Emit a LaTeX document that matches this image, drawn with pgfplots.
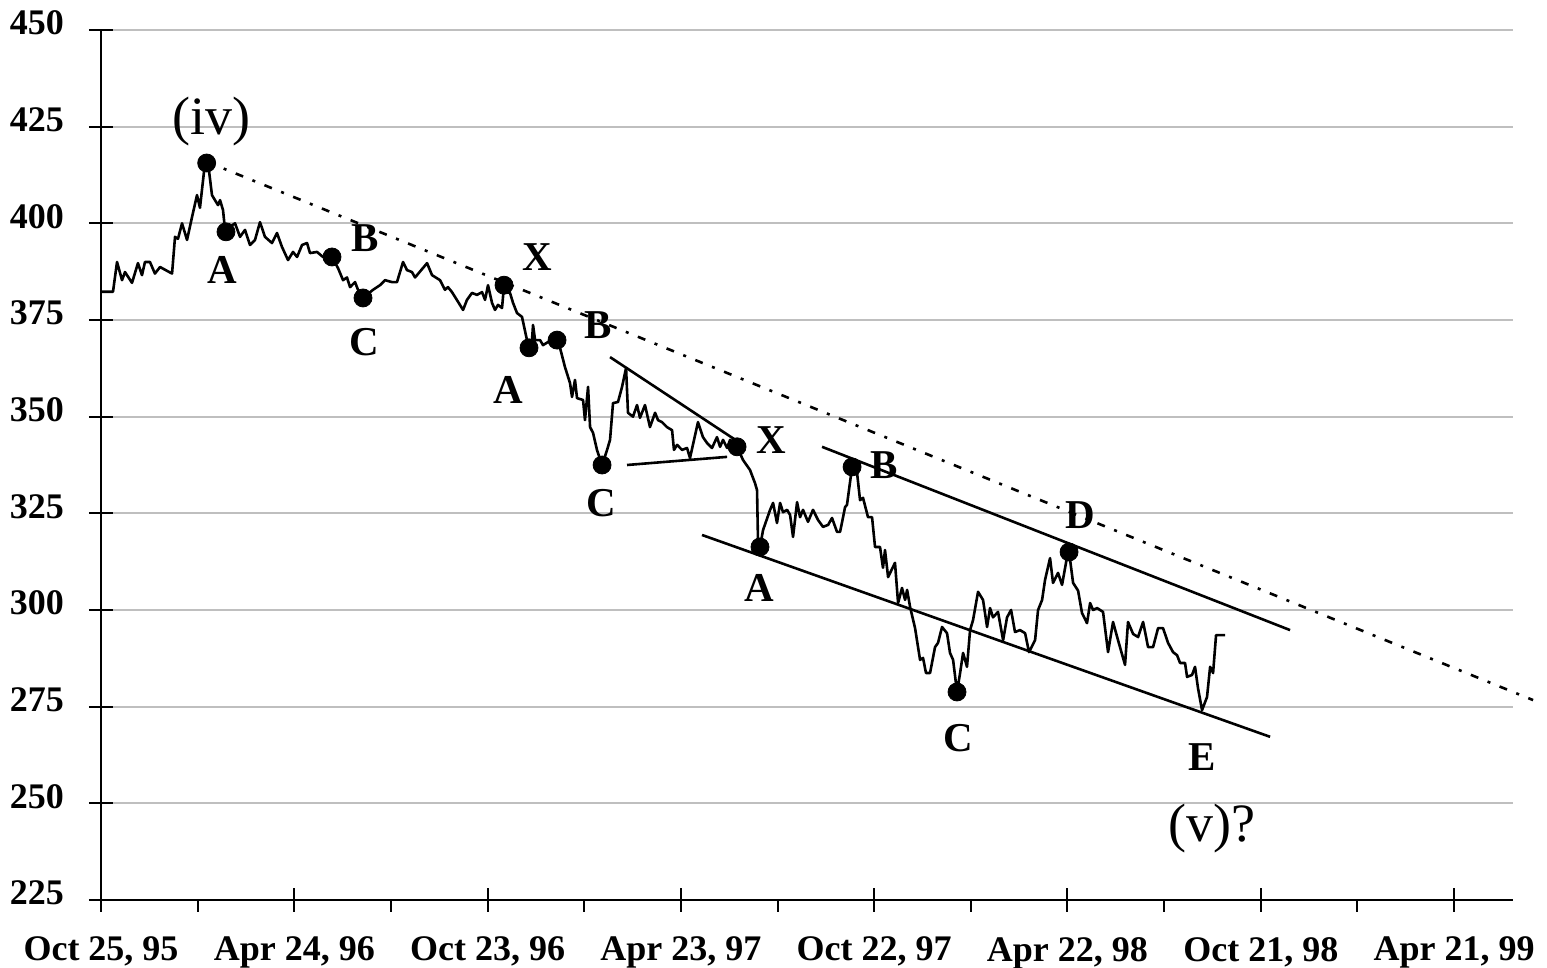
\documentclass[border=0pt]{standalone}
\usepackage{fontspec}
\setmainfont{Liberation Serif}
\usepackage{pgfplots}
\pgfplotsset{compat=1.18}
\begin{document}
\begin{tikzpicture}
\useasboundingbox (-50.5pt,-34pt) rectangle (723pt,450pt);
\begin{axis}[
  at={(0,0)}, anchor=south west,
  scale only axis, width=706pt, height=435pt,
  xmin=0, xmax=1329.5, ymin=225, ymax=450,
  axis x line=bottom, axis y line=left,
  axis line style={-, line width=1pt, black},
  ytick={225,250,...,450},
  xtick={0,182,364,546,728,910,1092,1274},
  xticklabels={{Oct 25, 95},{Apr 24, 96},{Oct 23, 96},{Apr 23, 97},{Oct 22, 97},{Apr 22, 98},{Oct 21, 98},{Apr 21, 99}},
  minor xtick={91,273,455,637,819,1001,1183},
  tick align=center, major tick length=12pt, minor tick length=6pt,
  minor tick style={yshift=-3pt},
  tick style={black, line width=1pt},
  ymajorgrids, grid style={black!25, line width=1.1pt},
  ticklabel style={font=\fontsize{18}{20}\selectfont\bfseries},
  /pgf/number format/assume math mode=true,
  yticklabel style={yshift=3.5pt, xshift=-9pt},
  xticklabel style={yshift=-9pt},
  clip=false,
]
% price series
\addplot[black, line width=1.3pt, line join=round, mark=none] coordinates {
(0,382.3)(11.3,382.3)(15.1,390)(19.8,385.3)(22.6,387.4)(29.2,384.6)(34.8,389.7)(38.6,386.6)(41.4,390)(46.1,390)
(50.8,387)(55.6,388.7)(66.9,387)(69.7,396.5)(72.5,396)(76.3,400)(81.0,395.7)(85.7,401.6)(90.4,407.3)(93.2,404)
(97.9,415.6)(100.8,415.6)(104.5,407.3)(107.3,406)(110.2,404.7)(112.1,406)(114.9,403.4)(116.8,398.3)(126.2,400)(130.9,396.5)
(135.6,398.3)(140.3,394.4)(145.0,395.7)(149.7,400.3)(154.4,396.5)(161.0,394.9)(165.7,397.5)(170.4,393.9)(176.1,390.5)(180.8,392.6)
(184.6,391.3)(189.3,394.4)(194.0,394.9)(196.8,392.3)(203.4,392.6)(209.0,391.3)(217.5,391.3)(223.2,388.4)(227.9,385.3)(231.6,386)
(234.5,383.5)(239.2,384.8)(242.0,382.8)(246.7,380.7)(256.1,382.8)(262.7,384)(267.4,385.3)(274.0,384.8)(278.7,384.8)(284.4,390)
(288.1,387.9)(292.8,387.4)(295.7,386)(307.0,389.7)(311.7,386.6)(319.2,385.3)(323.9,382.8)(326.7,383.5)(330.5,382.2)(336.2,379.7)
(340.9,377.6)(344.6,380.2)(349.3,382)(354.0,381.5)(358.8,382.2)(361.6,380.2)(364.4,384)(368.2,379.4)(371.0,377.6)(373.8,378.9)
(377.6,378.1)(379.5,384)(381.4,382.2)(385.1,382)(388.0,379.4)(391.7,376.8)(396.4,375.8)(401.1,369.8)(403.0,367.8)(405.8,369.8)
(406.8,373.7)(408.7,369.8)(413.4,369.8)(416.2,368.5)(420.9,369.3)(429.4,369.8)(432.2,367.8)(436.9,362.8)(441.6,358.7)(443.5,355.1)
(446.3,359.5)(448.2,354.8)(453.9,354.3)(455.7,349.1)(458.6,357.7)(460.5,347.3)(463.3,345.8)(467.0,341.4)(471.8,337.5)(476.5,341.4)
(479.3,344)(482.1,353.5)(486.8,353.8)(490.6,357.7)(494.4,362.6)(496.2,351)(500.9,350)(504.7,353)(507.5,349.7)(512.2,353)
(516.9,347.3)(521.7,351)(524.5,349.1)(528.2,348.6)(532.9,347.3)(537.7,346.5)(539.5,341.4)(542.4,342.7)(547.1,341.4)(551.8,341.9)
(554.6,339.3)(562.1,348.6)(566.8,344.7)(570.6,343.2)(575.3,341.9)(580.0,344.7)(582.9,342.2)(585.7,344)(589.5,341.9)(592.3,344)
(595.1,342.7)(598.9,342.2)(604.5,338.8)(611.1,336.2)(615.8,332.8)(617.7,331)(618.6,318.1)(620.5,316.3)(623.4,320.7)(630.0,325.9)
(632.8,327.7)(636.5,322.5)(639.4,327.7)(642.2,325.3)(646.0,325.9)(648.8,324.6)(651.6,318.9)(655.4,327.9)(658.2,324)(661.0,325.9)
(665.7,322.8)(670.4,325.9)(675.1,323.3)(679.8,321.5)(684.6,322)(688.3,323.8)(693.0,320.2)(695.9,320.2)(700.6,326.6)(702.4,327.2)
(707.2,337)(711.9,335.4)(714.7,328.4)(717.5,329)(722.2,324)(726.0,324)(728.8,316.3)(733.5,316.3)(736.3,310.9)(738.2,315.5)
(741.1,308.5)(747.6,312.2)(750.5,301.8)(754.2,305.7)(757.1,302.6)(759.0,305.2)(761.8,300.8)(766.5,295.3)(771.2,287.1)(774.0,287.6)
(776.8,283.7)(780.6,283.7)(785.3,290.4)(788.1,291.5)(791.9,295.6)(796.6,294)(799.4,288.9)(802.3,287.1)(806.0,278.8)(808.9,283.7)
(811.7,288.9)(815.4,285.3)(818.3,294.8)(821.1,297.4)(825.8,304.7)(830.5,302.6)(834.3,295.6)(837.1,300.5)(839.9,298.1)(844.6,299.5)
(849.4,292.2)(853.1,298.1)(856.9,300)(860.6,294.3)(865.3,294.8)(870.1,294)(873.8,289.1)(879.5,292.2)(882.3,300)(886.1,302.6)
(888.9,307.8)(893.6,313.4)(896.4,307)(901.1,309.6)(904.9,306.5)(909.6,313.7)(911.5,315)(915.3,307)(920.0,305)(923.7,299.2)
(928.4,296.6)(931.3,301.8)(934.1,300)(937.9,300.5)(943.5,299.5)(948.2,289.1)(952.9,296.9)(957.6,292.2)(964.2,285.8)(967.0,296.9)
(971.8,293.8)(976.5,293)(981.2,296.9)(985.9,290.4)(990.6,290.4)(995.3,295.3)(1000.0,295.3)(1004.7,291.5)(1009.4,289.1)(1013.2,288.3)
(1016.0,286.3)(1020.7,286.3)(1022.6,282.7)(1027.3,283.2)(1030.1,285.3)(1032.9,279.8)(1036.7,274.1)(1041.4,277.5)(1044.3,285.3)(1047.1,283.7)
(1049.9,293.5)(1058.4,293.5)
};
% wave points
\addplot[only marks, mark=*, mark size=4.5pt, black] coordinates {
(99.5,415.6)(117.7,397.8)(217.5,391.3)(246.7,380.7)(379.5,384)(403.0,367.8)(429.4,369.8)
(471.8,337.5)(598.9,342.2)(620.5,316.3)(707.2,337)(806.0,278.8)(911.5,315)
};
% dotted trend line
\addplot[black, line width=1.3pt, dash pattern=on 4pt off 5pt on 1.5pt off 5pt] coordinates {(99.8,415.9)(1348.4,276.7)};
% triangle
\addplot[black, line width=1.3pt] coordinates {(479.3,365.4)(601.7,343.2)};
\addplot[black, line width=1.3pt] coordinates {(495.3,337.5)(589.5,339.6)};
% channel
\addplot[black, line width=1.3pt] coordinates {(678.9,342.2)(1119.6,294.8)};
\addplot[black, line width=1.3pt] coordinates {(565.9,319.4)(1100.8,267.2)};
% labels
\begin{scope}[every node/.style={font=\fontsize{20.5}{23}\selectfont\bfseries}]
\node at (axis cs:113.9,387.9) {A};
\node at (axis cs:248.6,396.2) {B};
\node at (axis cs:247.6,369.3) {C};
\node at (axis cs:410.5,391.3) {X};
\node at (axis cs:468.0,373.7) {B};
\node at (axis cs:383.2,356.9) {A};
\node at (axis cs:470.8,327.7) {C};
\node at (axis cs:630.9,344) {X};
\node at (axis cs:737.3,337.5) {B};
\node at (axis cs:619.6,305.7) {A};
\node at (axis cs:807.0,266.9) {C};
\node at (axis cs:921.8,324.6) {D};
\node at (axis cs:1036.7,262) {E};
\end{scope}
\node[font=\fontsize{27}{30}\selectfont] at (axis cs:104.5,426.2) {(iv)};
\node[font=\fontsize{27}{30}\selectfont] at (axis cs:1046.1,243.6) {(v)?};
\end{axis}
\end{tikzpicture}
\end{document}
